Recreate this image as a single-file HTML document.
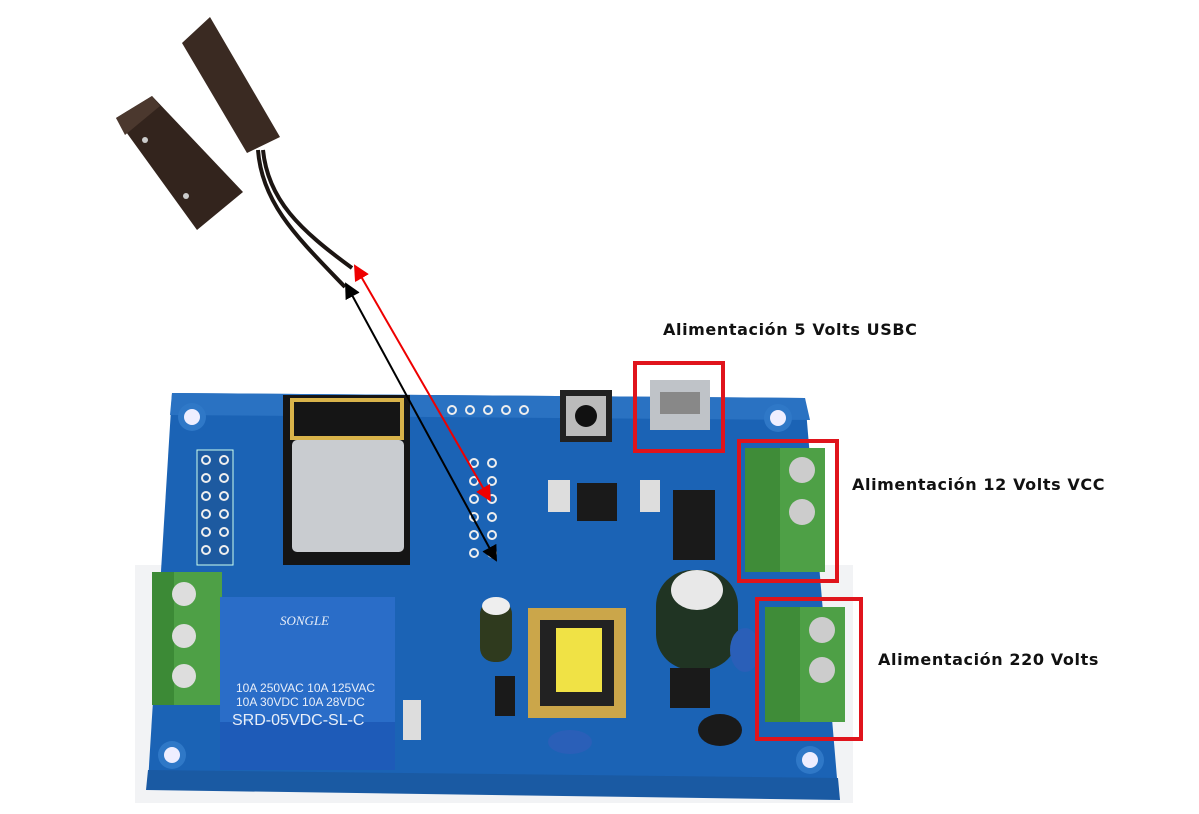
<!DOCTYPE html>
<html><head><meta charset="utf-8"><style>
html,body{margin:0;padding:0;background:#fff;}
body{width:1199px;height:814px;position:relative;overflow:hidden;font-family:"Liberation Sans",sans-serif;}
.lbl{position:absolute;font-weight:bold;font-size:16px;letter-spacing:0.6px;color:#111;white-space:nowrap;font-family:"DejaVu Sans","Liberation Sans",sans-serif;}
</style></head><body>
<svg width="1199" height="814" viewBox="0 0 1199 814" style="position:absolute;left:0;top:0">
<defs>
<marker id="ar" markerWidth="8" markerHeight="8" refX="7" refY="4" orient="auto-start-reverse"><path d="M0,0 L8,4 L0,8 z" fill="#e00"/></marker>
<marker id="ab" markerWidth="8" markerHeight="8" refX="7" refY="4" orient="auto-start-reverse"><path d="M0,0 L8,4 L0,8 z" fill="#000"/></marker>
</defs>
<rect x="135" y="565" width="718" height="238" fill="#f2f3f5"/>
<polygon points="172,393 805,398 838,790 148,782" fill="#1b63b5"/>
<polygon points="172,393 805,398 810,420 170,415" fill="#2a72c2"/>
<polygon points="148,770 838,778 840,800 146,790" fill="#1a5aa3"/>
<circle cx="192" cy="417" r="14" fill="#2f78c7"/><circle cx="192" cy="417" r="8" fill="#eef"/>
<circle cx="778" cy="418" r="14" fill="#2f78c7"/><circle cx="778" cy="418" r="8" fill="#eef"/>
<circle cx="172" cy="755" r="14" fill="#2f78c7"/><circle cx="172" cy="755" r="8" fill="#eef"/>
<circle cx="810" cy="760" r="14" fill="#2f78c7"/><circle cx="810" cy="760" r="8" fill="#eef"/>
<rect x="283" y="395" width="127" height="170" fill="#151515"/>
<rect x="292" y="400" width="110" height="38" fill="none" stroke="#d8b34a" stroke-width="4"/>
<rect x="292" y="440" width="112" height="112" rx="5" fill="#c9ccd0"/>
<rect x="197" y="450" width="36" height="115" fill="#1d5aa0" stroke="#cfe" stroke-width="1"/>
<g fill="none" stroke="#eee" stroke-width="2">
<circle cx="206" cy="460" r="4"/><circle cx="224" cy="460" r="4"/><circle cx="206" cy="478" r="4"/><circle cx="224" cy="478" r="4"/><circle cx="206" cy="496" r="4"/><circle cx="224" cy="496" r="4"/><circle cx="206" cy="514" r="4"/><circle cx="224" cy="514" r="4"/><circle cx="206" cy="532" r="4"/><circle cx="224" cy="532" r="4"/><circle cx="206" cy="550" r="4"/><circle cx="224" cy="550" r="4"/>
<circle cx="474" cy="463" r="4"/><circle cx="492" cy="463" r="4"/><circle cx="474" cy="481" r="4"/><circle cx="492" cy="481" r="4"/><circle cx="474" cy="499" r="4"/><circle cx="492" cy="499" r="4"/><circle cx="474" cy="517" r="4"/><circle cx="492" cy="517" r="4"/><circle cx="474" cy="535" r="4"/><circle cx="492" cy="535" r="4"/><circle cx="474" cy="553" r="4"/><circle cx="492" cy="553" r="4"/>
<circle cx="452" cy="410" r="4"/><circle cx="470" cy="410" r="4"/><circle cx="488" cy="410" r="4"/><circle cx="506" cy="410" r="4"/><circle cx="524" cy="410" r="4"/>
</g>
<rect x="560" y="390" width="52" height="52" fill="#222"/><rect x="566" y="396" width="40" height="40" fill="#bbb"/><circle cx="586" cy="416" r="11" fill="#111"/>
<rect x="650" y="380" width="60" height="50" fill="#bfc3c8"/><rect x="660" y="392" width="40" height="22" fill="#888"/>
<rect x="577" y="483" width="40" height="38" fill="#1a1a1a"/>
<rect x="673" y="490" width="42" height="70" fill="#1a1a1a"/>
<rect x="548" y="480" width="22" height="32" fill="#ddd"/><rect x="640" y="480" width="20" height="32" fill="#ddd"/>
<rect x="152" y="572" width="70" height="133" fill="#4ea046"/><rect x="152" y="572" width="22" height="133" fill="#3c8a36"/>
<circle cx="184" cy="594" r="12" fill="#ddd"/><circle cx="184" cy="636" r="12" fill="#ddd"/><circle cx="184" cy="676" r="12" fill="#ddd"/>
<rect x="220" y="597" width="175" height="173" fill="#1e5bb8"/>
<rect x="220" y="597" width="175" height="125" fill="#2a6dc8"/>
<text x="236" y="692" font-size="12" fill="#e8eef8" font-family="Liberation Sans">10A 250VAC 10A 125VAC</text>
<text x="236" y="706" font-size="12" fill="#e8eef8" font-family="Liberation Sans">10A  30VDC 10A  28VDC</text>
<text x="232" y="725" font-size="16" fill="#e8eef8" font-family="Liberation Sans">SRD-05VDC-SL-C</text>
<text x="280" y="625" font-size="13" fill="#e8eef8" font-style="italic" font-family="Liberation Serif">SONGLE</text>
<rect x="528" y="608" width="98" height="110" fill="#cba64a"/><rect x="540" y="620" width="74" height="86" fill="#222"/><rect x="556" y="628" width="46" height="64" fill="#f0e245"/>
<rect x="480" y="600" width="32" height="62" rx="14" fill="#2f3a1e"/><ellipse cx="496" cy="606" rx="14" ry="9" fill="#eee"/>
<rect x="656" y="570" width="82" height="100" rx="36" fill="#203423"/><ellipse cx="697" cy="590" rx="26" ry="20" fill="#e8e8e8"/>
<ellipse cx="745" cy="650" rx="15" ry="22" fill="#2a5fb8"/>
<ellipse cx="570" cy="742" rx="22" ry="12" fill="#2a5fb8"/>
<rect x="670" y="668" width="40" height="40" fill="#1a1a1a"/>
<ellipse cx="720" cy="730" rx="22" ry="16" fill="#1a1a1a"/>
<rect x="495" y="676" width="20" height="40" fill="#1a1a1a"/>
<rect x="403" y="700" width="18" height="40" fill="#ddd"/>
<rect x="745" y="448" width="80" height="124" fill="#4ea046"/><rect x="745" y="448" width="35" height="124" fill="#3f8c38"/>
<circle cx="802" cy="470" r="13" fill="#ccc"/><circle cx="802" cy="512" r="13" fill="#ccc"/>
<rect x="765" y="607" width="80" height="115" fill="#4ea046"/><rect x="765" y="607" width="35" height="115" fill="#3f8c38"/>
<circle cx="822" cy="630" r="13" fill="#ccc"/><circle cx="822" cy="670" r="13" fill="#ccc"/>
<rect x="635" y="363" width="88" height="88" fill="none" stroke="#e0141c" stroke-width="4"/>
<rect x="739" y="441" width="98" height="140" fill="none" stroke="#e0141c" stroke-width="4"/>
<rect x="757" y="599" width="104" height="140" fill="none" stroke="#e0141c" stroke-width="4"/>
<polygon points="210,17 182,43 247,153 280,137" fill="#3a2a22"/>
<polygon points="152,96 116,118 197,230 243,192" fill="#33241d"/>
<polygon points="152,96 116,118 125,135 160,106" fill="#4b382e"/>
<circle cx="145" cy="140" r="3" fill="#ccc"/><circle cx="186" cy="196" r="3" fill="#ccc"/>
<path d="M263,150 C268,200 300,230 352,268" stroke="#1c1512" stroke-width="4" fill="none"/>
<path d="M258,150 C262,205 300,240 345,287" stroke="#1c1512" stroke-width="4" fill="none"/>
<line x1="355" y1="266" x2="490" y2="500" stroke="#e00" stroke-width="2" marker-start="url(#ar)" marker-end="url(#ar)"/>
<line x1="346" y1="284" x2="496" y2="560" stroke="#000" stroke-width="2" marker-start="url(#ab)" marker-end="url(#ab)"/>
</svg>
<div class="lbl" style="left:663px;top:320px">Alimentación 5 Volts USBC</div>
<div class="lbl" style="left:852px;top:475px">Alimentación 12 Volts VCC</div>
<div class="lbl" style="left:878px;top:650px">Alimentación 220 Volts</div>
</body></html>
